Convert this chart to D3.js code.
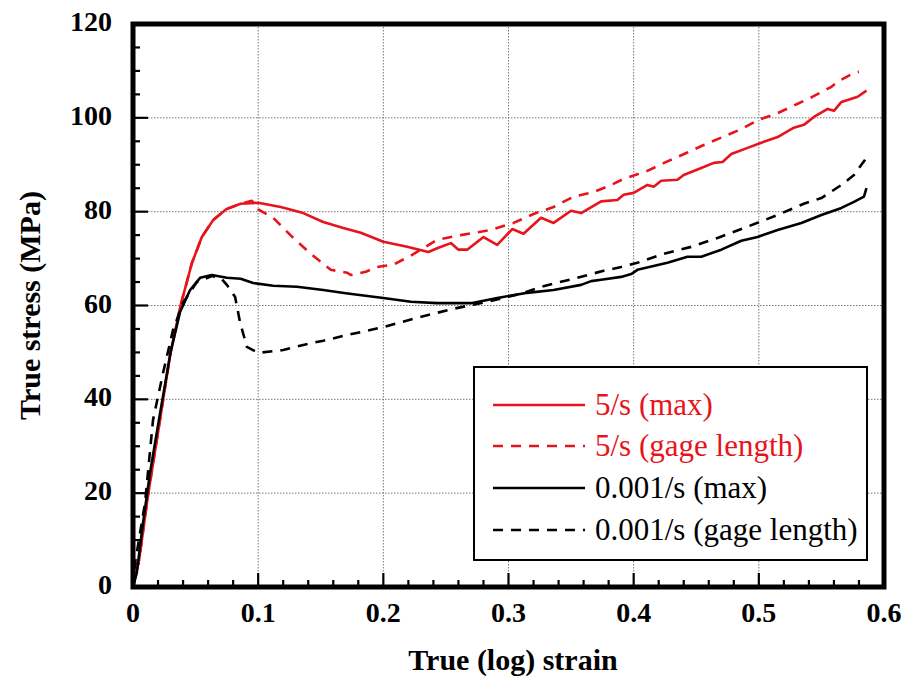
<!DOCTYPE html>
<html>
<head>
<meta charset="utf-8">
<script src="https://cdn.jsdelivr.net/npm/d3@7"></script>
<style>
  body { margin: 0; background: #fff; }
</style>
</head>
<body>
<script>
// strain / stress pairs
var red_max = [[0,0],[0.005,6],[0.012,19.6],[0.02,33],[0.03,50],[0.038,60],[0.047,69],[0.055,74.6],[0.064,78.2],
  [0.075,80.6],[0.086,81.7],[0.1,81.9],[0.118,81],[0.136,79.7],[0.152,77.8],[0.168,76.5],[0.182,75.5],[0.2,73.6],
  [0.219,72.5],[0.236,71.4],[0.244,72.3],[0.254,73.3],[0.26,71.9],[0.267,71.9],[0.28,74.6],[0.291,72.9],
  [0.303,76.3],[0.312,75.3],[0.326,78.7],[0.336,77.6],[0.35,80.2],[0.358,79.7],[0.374,82.2],[0.387,82.5],
  [0.392,83.6],[0.4,84],[0.411,85.7],[0.416,85.3],[0.422,86.6],[0.435,86.8],[0.44,87.8],[0.454,89.3],
  [0.464,90.4],[0.471,90.6],[0.478,92.3],[0.491,93.6],[0.502,94.7],[0.515,95.9],[0.528,97.9],[0.536,98.5],
  [0.544,100.2],[0.555,101.9],[0.56,101.5],[0.566,103.4],[0.571,103.8],[0.579,104.5],[0.586,105.8]];

var red_gage = [[0,0],[0.005,6],[0.012,19.6],[0.02,33],[0.03,50],[0.038,60],[0.047,69],[0.055,74.6],[0.064,78.2],
  [0.075,80.6],[0.086,81.7],[0.095,82.3],[0.1,80.5],[0.112,78.7],[0.128,74.4],[0.143,70.8],[0.158,67.6],
  [0.171,67],[0.174,66.5],[0.186,67.2],[0.195,68.2],[0.208,68.7],[0.223,70.8],[0.243,74],[0.262,75],
  [0.286,76.1],[0.304,77.6],[0.32,79.5],[0.336,81],[0.352,83.2],[0.368,84.2],[0.382,85.7],[0.392,87],
  [0.411,88.7],[0.426,90.6],[0.442,92.5],[0.456,94.2],[0.471,95.9],[0.486,97.6],[0.5,99.6],[0.515,101],
  [0.531,103],[0.543,104.5],[0.558,106.6],[0.563,107.7],[0.576,109.6],[0.58,109.8]];

var black_max = [[0,0],[0.003,3],[0.008,13.6],[0.0136,24.3],[0.0216,37],[0.03,50],[0.0376,58.6],[0.0456,63.3],
  [0.0536,65.9],[0.063,66.5],[0.075,65.9],[0.086,65.7],[0.096,64.8],[0.112,64.2],[0.131,64],[0.152,63.3],
  [0.17,62.6],[0.2,61.6],[0.222,60.8],[0.243,60.5],[0.27,60.5],[0.291,61.6],[0.315,62.7],[0.336,63.3],
  [0.358,64.4],[0.366,65.2],[0.374,65.5],[0.39,66.1],[0.398,66.7],[0.403,67.6],[0.427,69.1],[0.443,70.4],
  [0.454,70.4],[0.47,71.9],[0.486,73.8],[0.499,74.6],[0.515,76.1],[0.534,77.6],[0.55,79.3],[0.566,80.8],
  [0.576,82.1],[0.584,83.2],[0.586,85]];

var black_gage = [[0,0],[0.0016,5],[0.0096,17.9],[0.016,35.6],[0.024,45.6],[0.032,54.8],[0.04,60.6],[0.051,65],
  [0.063,66.3],[0.07,65.9],[0.075,64.4],[0.0816,61.8],[0.0856,56.3],[0.091,51.2],[0.1,49.9],[0.12,50.5],
  [0.136,51.6],[0.152,52.5],[0.171,53.7],[0.2,55.4],[0.227,57.4],[0.256,59.3],[0.283,60.8],[0.31,62.5],
  [0.326,64],[0.352,65.7],[0.376,67.4],[0.39,68.2],[0.403,69.1],[0.424,71],[0.446,72.5],[0.467,74.4],
  [0.491,76.8],[0.515,79.3],[0.536,81.7],[0.55,82.9],[0.566,85.7],[0.576,87.8],[0.586,91.5]];

var xTicks = [0, 0.1, 0.2, 0.3, 0.4, 0.5, 0.6];
var yTicks = [0, 20, 40, 60, 80, 100, 120];
var legendNames = ["5/s (max)", "5/s (gage length)", "0.001/s (max)", "0.001/s (gage length)"];

var series = [
  {name: legendNames[0], data: red_max, color: "#e8141b", dash: null},
  {name: legendNames[1], data: red_gage, color: "#e8141b", dash: "10,8"},
  {name: legendNames[2], data: black_max, color: "#000", dash: null},
  {name: legendNames[3], data: black_gage, color: "#000", dash: "10,8"}
];

var FONT = "'Liberation Serif', 'Times New Roman', Times, serif";

var svg = d3.select("body").append("svg")
    .attr("width", 907)
    .attr("height", 689)
    .attr("font-family", FONT);

var margin = {top: 24, right: 23, bottom: 102, left: 133},
    width = 907 - margin.left - margin.right,
    height = 689 - margin.top - margin.bottom;

var g = svg.append("g")
    .attr("transform", "translate(" + margin.left + "," + margin.top + ")");

var x = d3.scaleLinear().domain([0, 0.6]).range([0, width]);
var y = d3.scaleLinear().domain([0, 120]).range([height, 0]);

// dotted grid
g.append("g").selectAll("line").data(xTicks.slice(1, -1)).enter().append("line")
    .attr("x1", function(d) { return x(d); }).attr("x2", function(d) { return x(d); })
    .attr("y1", 0).attr("y2", height)
    .attr("stroke", "#777").attr("stroke-width", 1).attr("stroke-dasharray", "1.5,1.5");
g.append("g").selectAll("line").data(yTicks.slice(1, -1)).enter().append("line")
    .attr("y1", function(d) { return y(d); }).attr("y2", function(d) { return y(d); })
    .attr("x1", 0).attr("x2", width)
    .attr("stroke", "#777").attr("stroke-width", 1).attr("stroke-dasharray", "1.5,1.5");

// inward ticks, major + minor
var xMinor = d3.range(0, 0.6001, 0.02);
var yMinor = d3.range(0, 120.01, 5);
g.append("g").selectAll("line").data(xMinor).enter().append("line")
    .attr("x1", function(d) { return x(d); }).attr("x2", function(d) { return x(d); })
    .attr("y1", height).attr("y2", function(d) { return Math.abs(d * 10 - Math.round(d * 10)) < 1e-6 ? height - 14 : height - 7; })
    .attr("stroke", "#000").attr("stroke-width", 2.2);
g.append("g").selectAll("line").data(yMinor).enter().append("line")
    .attr("y1", function(d) { return y(d); }).attr("y2", function(d) { return y(d); })
    .attr("x1", 0).attr("x2", function(d) { return d % 20 === 0 ? 15 : 7; })
    .attr("stroke", "#000").attr("stroke-width", 2.2);

// curves
var line = d3.line()
    .x(function(d) { return x(d[0]); })
    .y(function(d) { return y(d[1]); });

g.selectAll(".curve").data(series).enter().append("path")
    .attr("class", "curve")
    .attr("d", function(d) { return line(d.data); })
    .attr("fill", "none")
    .attr("stroke", function(d) { return d.color; })
    .attr("stroke-width", 2.6)
    .attr("stroke-linejoin", "round")
    .attr("stroke-dasharray", function(d) { return d.dash; });

// frame
g.append("rect")
    .attr("x", 0).attr("y", 0).attr("width", width).attr("height", height)
    .attr("fill", "none").attr("stroke", "#000").attr("stroke-width", 5);

// tick labels
g.append("g").selectAll("text").data(xTicks).enter().append("text")
    .attr("x", function(d) { return x(d); })
    .attr("y", height + 35)
    .attr("text-anchor", "middle")
    .attr("font-size", 28).attr("font-weight", "bold")
    .text(function(d) { return d === 0 ? "0" : d.toFixed(1); });
g.append("g").selectAll("text").data(yTicks).enter().append("text")
    .attr("x", -21)
    .attr("y", function(d) { return y(d) + 7; })
    .attr("text-anchor", "end")
    .attr("font-size", 28).attr("font-weight", "bold")
    .text(function(d) { return d; });

// axis titles
svg.append("text")
    .attr("x", 513).attr("y", 670)
    .attr("text-anchor", "middle")
    .attr("font-size", 30).attr("font-weight", "bold")
    .text("True (log) strain");
svg.append("text")
    .attr("transform", "translate(40," + (margin.top + height / 2) + ") rotate(-90)")
    .attr("text-anchor", "middle")
    .attr("font-size", 30).attr("font-weight", "bold")
    .text("True stress (MPa)");

// legend
var lg = svg.append("g");
lg.append("rect")
    .attr("x", 474).attr("y", 367).attr("width", 393).attr("height", 193)
    .attr("fill", "#fff").attr("stroke", "#000").attr("stroke-width", 2);
var rowY = [405, 446, 488, 530];
var rows = lg.selectAll(".row").data(series).enter().append("g")
    .attr("transform", function(d, i) { return "translate(0," + rowY[i] + ")"; });
rows.append("line")
    .attr("x1", 493).attr("x2", 585).attr("y1", 0).attr("y2", 0)
    .attr("stroke", function(d) { return d.color; })
    .attr("stroke-width", 2.4)
    .attr("stroke-dasharray", function(d) { return d.dash; });
rows.append("text")
    .attr("x", 595).attr("y", 10)
    .attr("font-size", 31)
    .attr("fill", function(d) { return d.color; })
    .text(function(d) { return d.name; });
</script>
</body>
</html>
